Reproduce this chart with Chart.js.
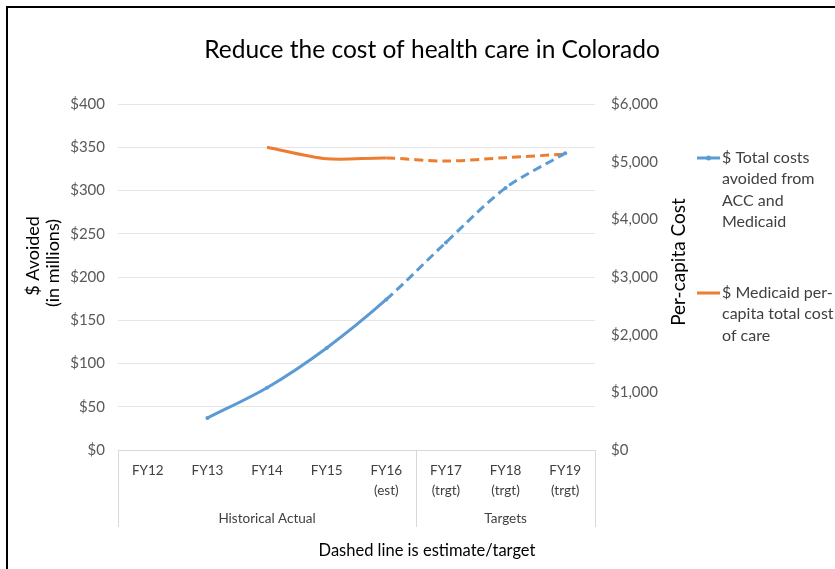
<!DOCTYPE html>
<html>
<head>
<meta charset="utf-8">
<script src="https://cdn.jsdelivr.net/npm/chart.js@4"></script>
<style>
  html, body { margin: 0; padding: 0; background: #fff; }
</style>
</head>
<body>
<canvas id="myChart" width="835" height="569"></canvas>
<script>
// data
const categories = [['FY12'], ['FY13'], ['FY14'], ['FY15'], ['FY16', '(est)'], ['FY17', '(trgt)'], ['FY18', '(trgt)'], ['FY19', '(trgt)']];
const costsAvoided = [null, 37, 72, 118, 174, 240, 303, 343];       // $ millions, left axis
const perCapitaCost = [null, null, 5250, 5050, 5065, 5010, 5070, 5130]; // $, right axis
const groupLabels = ['Historical Actual', 'Targets'];
const groupRanges = [[0, 4], [5, 7]];
const firstEstimate = 4; // line is dashed from FY16 on

const FONT = 'Lato';
const blue = '#5B9BD5';
const orange = '#ED7D31';

const dashAfterEstimate = (pattern) => (ctx) => ctx.p0DataIndex >= firstEstimate ? pattern : undefined;

// extra text: title, axis titles, legend, group labels, note, frame
const extras = {
  id: 'extras',
  afterDraw(chart) {
    const c = chart.ctx;
    const x = chart.scales.x;
    c.save();

    // frame
    c.strokeStyle = '#000';
    c.lineWidth = 2;
    c.beginPath();
    c.moveTo(7, 569);
    c.lineTo(7, 7);
    c.lineTo(835, 7);
    c.stroke();

    // title
    c.fillStyle = '#000';
    c.textAlign = 'center';
    c.textBaseline = 'middle';
    c.font = '24.5px ' + FONT;
    c.fillText('Reduce the cost of health care in Colorado', 432, 50);

    // left axis title
    c.font = '18px ' + FONT;
    c.save();
    c.translate(33, 256);
    c.rotate(-Math.PI / 2);
    c.fillText('$ Avoided', 0, 0);
    c.restore();
    c.save();
    c.translate(53, 263);
    c.rotate(-Math.PI / 2);
    c.fillText('(in millions)', 0, 0);
    c.restore();

    // right axis title
    c.font = '19px ' + FONT;
    c.save();
    c.translate(679, 262);
    c.rotate(-Math.PI / 2);
    c.fillText('Per-capita Cost', 0, 0);
    c.restore();

    // category group separators and labels
    c.strokeStyle = '#D9D9D9';
    c.lineWidth = 1;
    const bounds = [-0.5, 4.5, 7.5];
    bounds.forEach(v => {
      const px = Math.round(x.getPixelForValue(v)) + 0.5;
      c.beginPath();
      c.moveTo(px, x.top);
      c.lineTo(px, 527);
      c.stroke();
    });
    c.fillStyle = '#404040';
    c.font = '13.5px ' + FONT;
    groupLabels.forEach((lab, i) => {
      const [a, b] = groupRanges[i];
      const cx = (x.getPixelForValue(a - 0.5) + x.getPixelForValue(b + 0.5)) / 2;
      c.fillText(lab, cx, 519);
    });

    // footnote
    c.fillStyle = '#000';
    c.font = '16.5px ' + FONT;
    c.fillText('Dashed line is estimate/target', 427, 551);

    // legend
    const items = [
      { color: blue, y: 158, lines: ['$ Total costs', 'avoided from', 'ACC and', 'Medicaid'], marker: true },
      { color: orange, y: 293, lines: ['$ Medicaid per-', 'capita total cost', 'of care'], marker: false }
    ];
    c.textAlign = 'left';
    c.font = '16px ' + FONT;
    items.forEach(it => {
      c.strokeStyle = it.color;
      c.lineWidth = 3;
      c.beginPath();
      c.moveTo(697, it.y);
      c.lineTo(720, it.y);
      c.stroke();
      if (it.marker) {
        c.fillStyle = it.color;
        c.beginPath();
        c.arc(708.5, it.y, 2.5, 0, Math.PI * 2);
        c.fill();
      }
      c.fillStyle = '#404040';
      it.lines.forEach((l, j) => c.fillText(l, 722, it.y + j * 21.3));
    });

    c.restore();
  }
};

const config = {
  type: 'line',
  data: {
    labels: categories,
    datasets: [
      {
        label: '$ Total costs avoided from ACC and Medicaid',
        data: costsAvoided,
        yAxisID: 'y',
        borderColor: blue,
        backgroundColor: blue,
        borderWidth: 3,
        pointRadius: 2,
        pointBorderWidth: 0,
        tension: 0.3,
        segment: { borderDash: dashAfterEstimate([9, 5]) }
      },
      {
        label: '$ Medicaid per-capita total cost of care',
        data: perCapitaCost,
        yAxisID: 'y1',
        borderColor: orange,
        backgroundColor: orange,
        borderWidth: 3,
        pointRadius: 0,
        tension: 0.3,
        segment: { borderDash: dashAfterEstimate([9, 5]) }
      }
    ]
  },
  options: {
    responsive: false,
    animation: false,
    layout: { padding: { top: 104 } },
    plugins: {
      legend: { display: false },
      title: { display: false },
      tooltip: { enabled: false }
    },
    scales: {
      x: {
        offset: true,
        grid: { display: false, offset: true },
        border: { display: true, color: '#D9D9D9' },
        ticks: {
          font: { family: FONT, size: 13.5, lineHeight: 1.48 },
          color: '#404040',
          padding: 3,
          maxRotation: 0,
          autoSkip: false
        },
        afterFit(s) { s.height = 119; }
      },
      y: {
        position: 'left',
        min: 0,
        max: 400,
        grid: { color: '#E6E6E6', drawTicks: false },
        border: { display: false },
        ticks: {
          stepSize: 50,
          padding: 13,
          color: '#595959',
          font: { family: FONT, size: 15 },
          callback: v => '$' + v
        },
        afterFit(s) { s.width = 118; }
      },
      y1: {
        position: 'right',
        min: 0,
        max: 6000,
        grid: { display: false, drawTicks: false },
        border: { display: false },
        ticks: {
          stepSize: 1000,
          padding: 16,
          color: '#595959',
          font: { family: FONT, size: 15 },
          callback: v => '$' + v.toLocaleString('en-US')
        },
        afterFit(s) { s.width = 240; }
      }
    }
  },
  plugins: [extras]
};

const myChart = new Chart(document.getElementById('myChart'), config);
</script>
</body>
</html>
